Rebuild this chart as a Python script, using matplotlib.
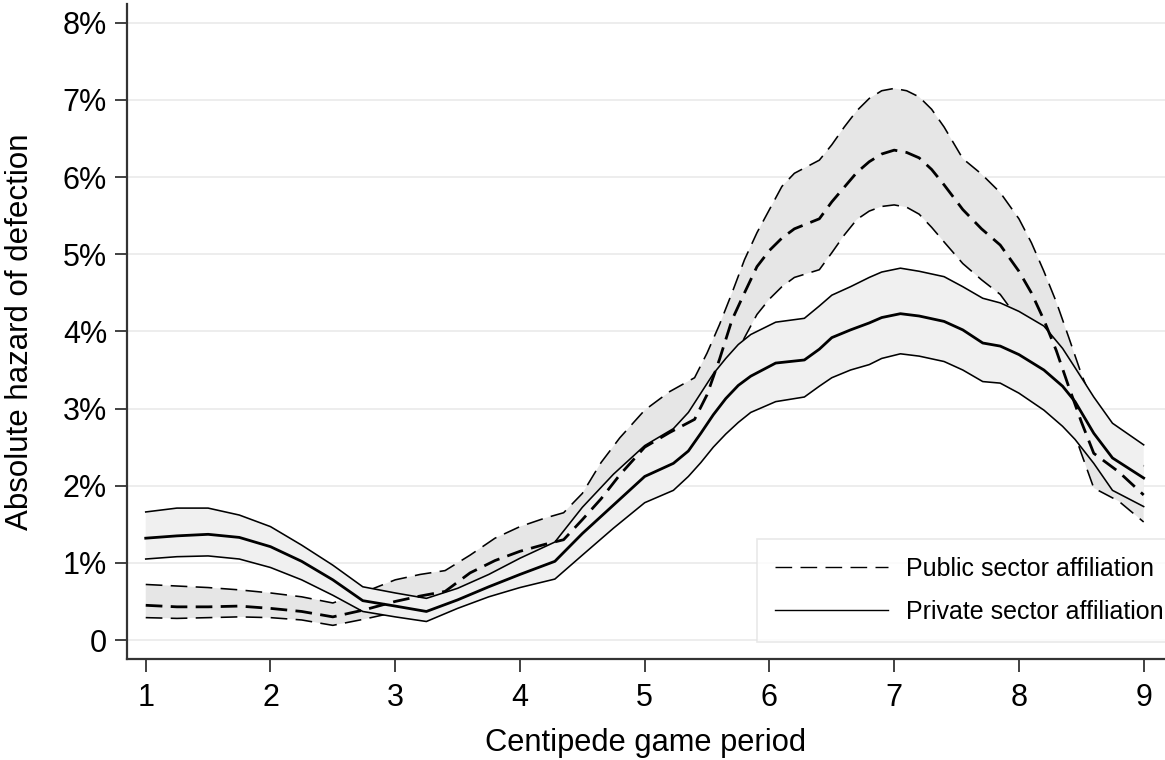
import matplotlib
matplotlib.use("Agg")
import matplotlib.pyplot as plt
from matplotlib.lines import Line2D
from matplotlib.ticker import FixedLocator

plt.rcParams['font.family'] = ['Liberation Sans', 'DejaVu Sans']
plt.rcParams['lines.scale_dashes'] = False

# ---------------- data (hazard in %) ----------------
x_public = [1.0, 1.25, 1.5, 1.75, 2.0, 2.25, 2.5, 2.75, 3.0, 3.2, 3.4, 3.6, 3.8, 4.0, 4.2, 4.35,
            4.5, 4.65, 4.8, 5.0, 5.2, 5.4, 5.5, 5.6, 5.7, 5.8, 5.9, 6.0, 6.1, 6.2, 6.4, 6.5,
            6.6, 6.7, 6.8, 6.9, 7.0, 7.1, 7.2, 7.3, 7.4, 7.55, 7.7, 7.85, 8.0, 8.1, 8.2, 8.3,
            8.4, 8.5, 8.6, 8.8, 9.0]
public_upper = [0.72, 0.70, 0.68, 0.65, 0.61, 0.56, 0.48, 0.62, 0.78, 0.85, 0.90, 1.10, 1.32, 1.47, 1.58, 1.65,
                1.90, 2.30, 2.62, 2.98, 3.22, 3.40, 3.72, 4.09, 4.50, 4.93, 5.28, 5.58, 5.88, 6.05, 6.22, 6.42,
                6.65, 6.86, 7.02, 7.12, 7.15, 7.12, 7.04, 6.88, 6.65, 6.24, 6.04, 5.80, 5.46, 5.15, 4.78, 4.38,
                3.92, 3.45, 3.05, 2.60, 2.25]
public_mean = [0.45, 0.43, 0.43, 0.44, 0.41, 0.37, 0.30, 0.39, 0.50, 0.57, 0.63, 0.87, 1.03, 1.15, 1.24, 1.30,
               1.56, 1.83, 2.14, 2.50, 2.69, 2.86, 3.18, 3.64, 4.15, 4.50, 4.84, 5.05, 5.21, 5.33, 5.46, 5.68,
               5.87, 6.06, 6.20, 6.30, 6.35, 6.32, 6.25, 6.10, 5.90, 5.58, 5.33, 5.12, 4.78, 4.50, 4.15, 3.75,
               3.28, 2.83, 2.42, 2.18, 1.88]
public_lower = [0.29, 0.28, 0.29, 0.30, 0.29, 0.26, 0.19, 0.27, 0.36, 0.42, 0.46, 0.62, 0.76, 0.86, 0.93, 0.98,
                1.22, 1.45, 1.70, 2.05, 2.25, 2.40, 2.70, 3.15, 3.55, 3.92, 4.22, 4.42, 4.58, 4.70, 4.80, 5.02,
                5.25, 5.45, 5.56, 5.62, 5.64, 5.61, 5.52, 5.35, 5.16, 4.88, 4.67, 4.48, 4.15, 3.90, 3.60, 3.22,
                2.88, 2.42, 1.97, 1.80, 1.53]

x_private = [1.0, 1.25, 1.5, 1.75, 2.0, 2.25, 2.5, 2.74, 3.0, 3.25, 3.5, 3.75, 4.0, 4.28, 4.5, 4.75,
             5.0, 5.23, 5.35, 5.45, 5.55, 5.65, 5.75, 5.85, 6.05, 6.28, 6.4, 6.5, 6.65, 6.8, 6.9, 7.05,
             7.2, 7.4, 7.55, 7.71, 7.85, 8.0, 8.2, 8.35, 8.45, 8.6, 8.75, 9.0]
private_upper = [1.66, 1.71, 1.71, 1.62, 1.47, 1.23, 0.97, 0.69, 0.61, 0.54, 0.67, 0.85, 1.06, 1.27, 1.72, 2.15,
                 2.52, 2.74, 2.95, 3.20, 3.45, 3.65, 3.83, 3.96, 4.12, 4.17, 4.33, 4.47, 4.58, 4.70, 4.77, 4.82,
                 4.78, 4.71, 4.58, 4.43, 4.37, 4.26, 4.07, 3.78, 3.53, 3.15, 2.81, 2.53]
private_mean = [1.32, 1.35, 1.37, 1.33, 1.21, 1.02, 0.78, 0.51, 0.44, 0.37, 0.52, 0.69, 0.85, 1.02, 1.38, 1.75,
                2.12, 2.29, 2.45, 2.68, 2.92, 3.13, 3.30, 3.42, 3.59, 3.63, 3.77, 3.92, 4.02, 4.11, 4.18, 4.23,
                4.20, 4.13, 4.02, 3.85, 3.81, 3.70, 3.50, 3.29, 3.09, 2.68, 2.36, 2.10]
private_lower = [1.05, 1.08, 1.09, 1.05, 0.94, 0.78, 0.58, 0.37, 0.30, 0.24, 0.41, 0.56, 0.68, 0.79, 1.10, 1.45,
                 1.78, 1.94, 2.12, 2.30, 2.50, 2.67, 2.82, 2.95, 3.09, 3.15, 3.29, 3.40, 3.50, 3.57, 3.65, 3.71,
                 3.68, 3.61, 3.50, 3.35, 3.33, 3.20, 2.98, 2.77, 2.60, 2.29, 1.94, 1.73]

x_ticks = [1, 2, 3, 4, 5, 6, 7, 8, 9]
y_ticks = [0, 1, 2, 3, 4, 5, 6, 7, 8]
y_tick_labels = ['0', '1%', '2%', '3%', '4%', '5%', '6%', '7%', '8%']
legend_labels = ['Public sector affiliation', 'Private sector affiliation']

# ---------------- style ----------------
DASH = (0, (12, 6))
PUB_FILL = '#e6e6e6'
PRI_FILL = '#f0f0f0'
CI_LW = 1.15
MEAN_LW = 2.0

fig = plt.figure(figsize=(11.65, 7.6), dpi=100)
ax = fig.add_axes([0.1086, 0.1325, 0.8914, 0.8622])

# public band
ax.fill_between(x_public, public_lower, public_upper, facecolor=PUB_FILL, edgecolor='none', zorder=2)
ax.plot(x_public, public_upper, color='black', lw=CI_LW, linestyle=DASH, zorder=2.1)
ax.plot(x_public, public_lower, color='black', lw=CI_LW, linestyle=DASH, zorder=2.1)
# private band (opaque, drawn over the public band)
ax.fill_between(x_private, private_lower, private_upper, facecolor=PRI_FILL, edgecolor='none', zorder=3)
ax.plot(x_private, private_upper, color='black', lw=CI_LW, linestyle='-', zorder=3.1)
ax.plot(x_private, private_lower, color='black', lw=CI_LW, linestyle='-', zorder=3.1)
# means
ax.plot(x_public, public_mean, color='black', lw=MEAN_LW, linestyle=DASH, zorder=4)
ax.plot(x_private, private_mean, color='black', lw=MEAN_LW, linestyle='-', zorder=4)

ax.set_xlim(0.846, 9.171)
ax.set_ylim(-0.25, 8.244)

ax.xaxis.set_major_locator(FixedLocator(x_ticks))
ax.set_xticklabels([str(t) for t in x_ticks])
ax.set_yticks(y_ticks)
ax.set_yticklabels(y_tick_labels)

ax.yaxis.grid(True, color='#e8e8e8', lw=1.1, zorder=0)
ax.xaxis.grid(False)
ax.set_axisbelow(True)

for s in ['top', 'right']:
    ax.spines[s].set_visible(False)
for s in ['left', 'bottom']:
    ax.spines[s].set_color('#333333')
    ax.spines[s].set_linewidth(1.6)

ax.tick_params(axis='both', direction='out', length=9, width=1.3, color='#333333',
               labelsize=22, labelcolor='black')
ax.tick_params(axis='y', pad=5)
ax.tick_params(axis='x', pad=8)

ax.set_xlabel('Centipede game period', fontsize=22.2, labelpad=11)
ax.set_ylabel('Absolute hazard of defection', fontsize=22.5, labelpad=20)

handles = [Line2D([], [], color='black', lw=1.0, linestyle=DASH),
           Line2D([], [], color='black', lw=1.0, linestyle='-')]
leg = fig.legend(handles, legend_labels, loc='upper left',
                 bbox_to_anchor=(757 / 1165, 1 - 539 / 760), bbox_transform=fig.transFigure,
                 fontsize=18, handlelength=4.55, handletextpad=0.72, borderpad=0.7,
                 labelspacing=0.78, frameon=True, fancybox=False, borderaxespad=0)
leg.get_frame().set_edgecolor('#e3e3e3')
leg.get_frame().set_linewidth(1.2)
leg.get_frame().set_facecolor('white')

fig.savefig('out.png', dpi=100)
